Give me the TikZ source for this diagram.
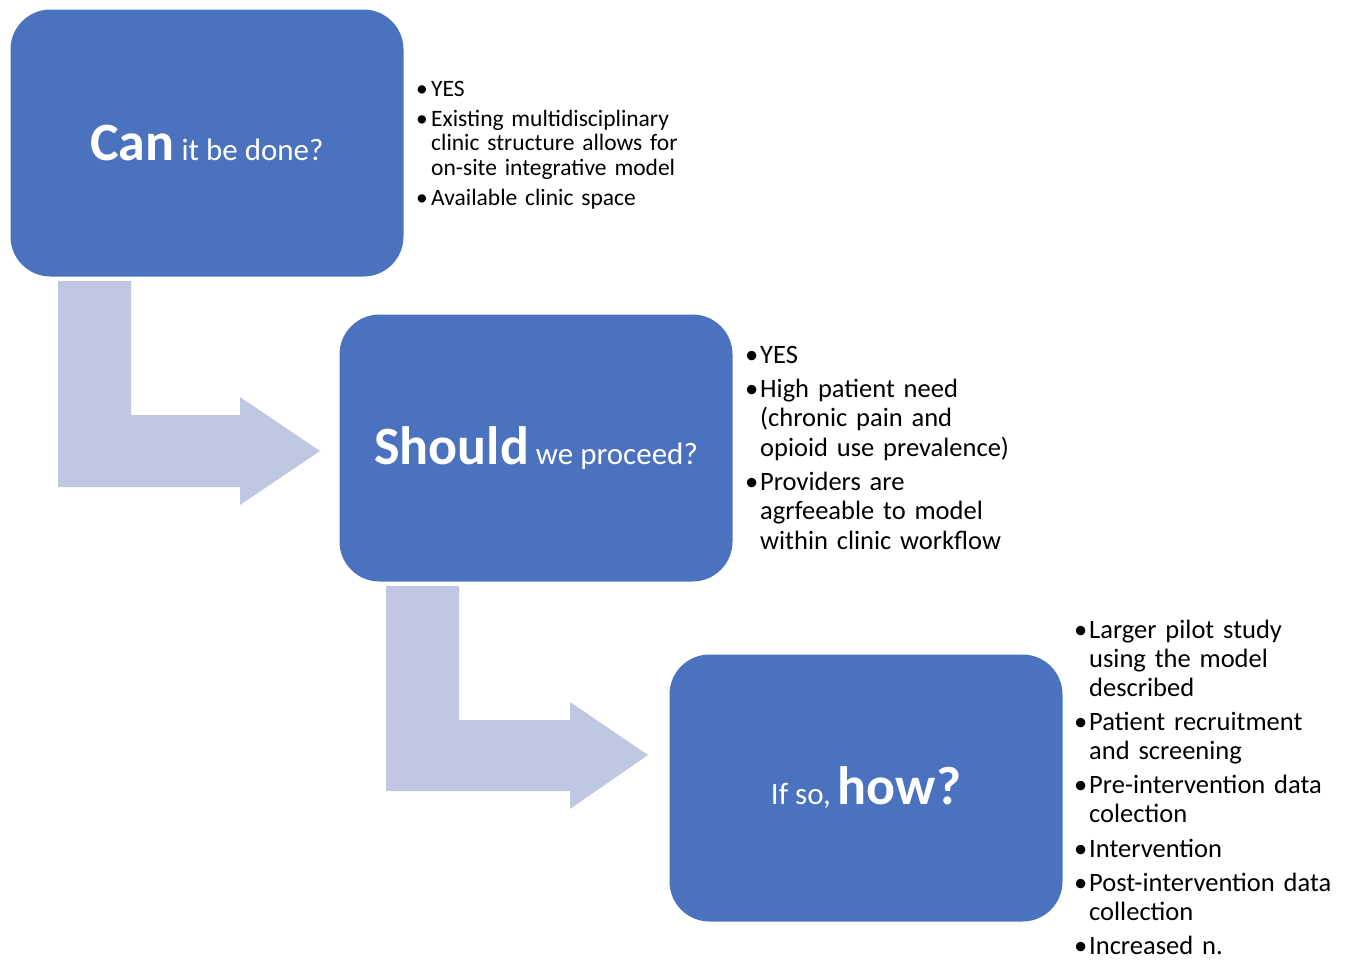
\documentclass[tikz,border=0pt]{standalone}
\usepackage{fontspec}
\setmainfont{Carlito}
\usepackage{xcolor}
\usepackage{tikz}
\definecolor{boxblue}{HTML}{4A72BF}
\definecolor{arrowgrey}{HTML}{C0C7E3}
\newcommand{\bitem}[1]{\par\leftskip=15pt\noindent\llap{\makebox[15pt][l]{\textbullet}}#1\par}
\newcommand{\bigword}[1]{{\fontsize{54}{54}\selectfont\bfseries #1}}

\begin{document}
\begin{tikzpicture}[x=1pt,y=-1pt]
	\tikzstyle{every node}+=[inner sep=0pt]
	\tikzstyle{question}=[fill=boxblue, rounded corners=40pt, minimum width=393pt, minimum height=267pt, text=white, font=\fontsize{31}{31}\selectfont]
	\tikzstyle{answers}=[anchor=north west, text width=300pt, align=left]
	\useasboundingbox (0,0) rectangle (1358,961);
	\fill [arrowgrey] (58,281) -- (131,281) -- (131,415) -- (240,415) -- (240,397) -- (320,451) -- (240,505) -- (240,487) -- (58,487) -- cycle;
	\fill [arrowgrey] (386,586) -- (459,586) -- (459,720) -- (570,720) -- (570,702) -- (648,755) -- (570,809) -- (570,791) -- (386,791) -- cycle;
	\node [question] (can) at (207,143) {\bigword{Can} it be done?};
	\node [question] (should) at (536,448) {\bigword{Should} we proceed?};
	\node [question] (how) at (866,788) {If so, \bigword{how?}};
	\node [answers, font=\fontsize{23.5}{24.5}\selectfont\setlength{\parskip}{5.5pt}] (canlist) at (416,66) {%
		\bitem{YES}
		\bitem{Existing multidisciplinary\\clinic structure allows for\\on-site integrative model}
		\bitem{Available clinic space}};
	\node [answers, font=\fontsize{26.5}{29.5}\selectfont\setlength{\parskip}{4.5pt}] (shouldlist) at (745,329) {%
		\bitem{YES}
		\bitem{High patient need\\(chronic pain and\\opioid use prevalence)}
		\bitem{Providers are\\agrfeeable to model\\within clinic workflow}};
	\node [answers, font=\fontsize{26.5}{29.1}\selectfont\setlength{\parskip}{5pt}] (howlist) at (1074,604) {%
		\bitem{Larger pilot study\\using the model\\described}
		\bitem{Patient recruitment\\and screening}
		\bitem{Pre-intervention data\\colection}
		\bitem{Intervention}
		\bitem{Post-intervention data\\collection}
		\bitem{Increased n.}};
\end{tikzpicture}
\end{document}
